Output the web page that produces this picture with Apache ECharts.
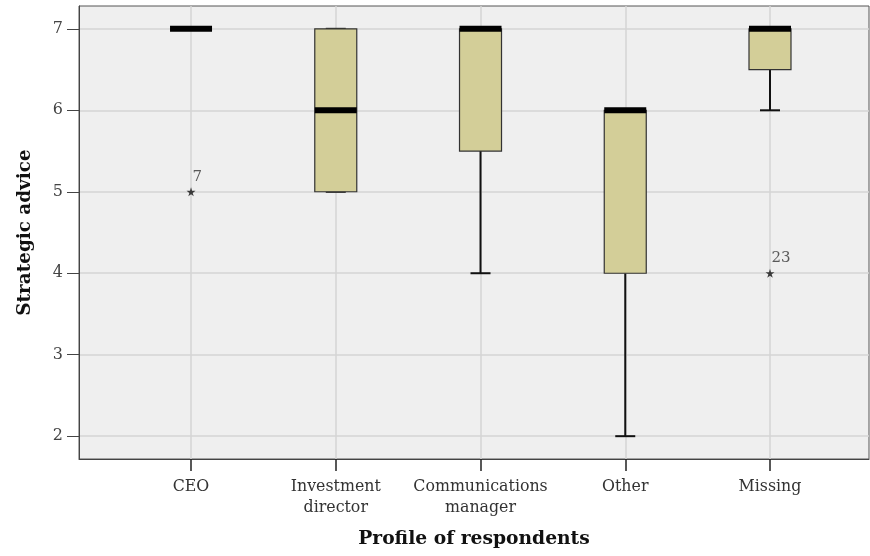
<!DOCTYPE html>
<html>
<head>
<meta charset="utf-8">
<script src="https://cdn.jsdelivr.net/npm/echarts@6/dist/echarts.min.js"></script>
<style>html,body{margin:0;padding:0;background:#fff}#c{width:870px;height:556px}</style>
</head>
<body>
<div id="c"></div>
<script>
const categories = ['CEO', 'Investment\ndirector', 'Communications\nmanager', 'Other', 'Missing'];
const lowerWhisker = [7, 5, 4, 2, 6];
const q1 = [7, 5, 5.5, 4, 6.5];
const median = [7, 6, 7, 6, 7];
const q3 = [7, 7, 7, 6, 7];
const upperWhisker = [7, 7, 7, 6, 7];
const outlierCategory = [1, 5];
const outlierValue = [5, 4];
const outlierLabel = ['7', '23'];
const yTicks = [2, 3, 4, 5, 6, 7];
const xTicks = [1, 2, 3, 4, 5];

const boxData = categories.map((c, i) => [i + 1, lowerWhisker[i], q1[i], median[i], q3[i], upperWhisker[i]]);
const outlierData = outlierCategory.map((c, i) => ({ value: [c, outlierValue[i]], name: outlierLabel[i] }));

const FONT = '"DejaVu Serif", "Liberation Serif", serif';
const chart = echarts.init(document.getElementById('c'));
chart.setOption({
  animation: false,
  backgroundColor: '#ffffff',
  grid: { left: 79, top: 6, right: 1, bottom: 97, outerBoundsMode: 'none', containLabel: false, show: true, backgroundColor: '#efefef', borderColor: '#555', borderWidth: 1 },
  xAxis: {
    type: 'value', min: 0.226, max: 5.684,
    axisLine: { show: true, lineStyle: { color: '#444', width: 1 } },
    axisTick: { show: true, length: 12, customValues: xTicks, lineStyle: { color: '#222', width: 1.5 } },
    axisLabel: { customValues: xTicks, margin: 17, formatter: v => categories[Math.round(v) - 1] || '', fontFamily: FONT, fontSize: 15.8, color: '#333', lineHeight: 21 },
    splitLine: { show: true, lineStyle: { color: '#d4d4d4', width: 1.5 } },
    name: 'Profile of respondents', nameLocation: 'middle', nameGap: 71,
    nameTextStyle: { fontFamily: FONT, fontWeight: 'bold', fontSize: 18.7, color: '#111' }
  },
  yAxis: {
    type: 'value', min: 1.72, max: 7.28,
    axisLine: { show: true, lineStyle: { color: '#444', width: 1 } },
    axisTick: { show: true, length: 12, customValues: yTicks, lineStyle: { color: '#444', width: 1 } },
    axisLabel: { customValues: yTicks, margin: 16, fontFamily: FONT, fontSize: 16, color: '#444' },
    splitLine: { show: true, lineStyle: { color: '#d4d4d4', width: 1.5 } },
    name: 'Strategic advice', nameLocation: 'middle', nameGap: 45,
    nameTextStyle: { fontFamily: FONT, fontWeight: 'bold', fontSize: 18.4, color: '#111' }
  },
  series: [
    {
      type: 'custom',
      data: boxData,
      encode: { x: 0, y: [1, 2, 3, 4, 5] },
      renderItem: function (params, api) {
        const x = api.value(0);
        const pMin = api.coord([x, api.value(1)]);
        const pQ1 = api.coord([x, api.value(2)]);
        const pMed = api.coord([x, api.value(3)]);
        const pQ3 = api.coord([x, api.value(4)]);
        const pMax = api.coord([x, api.value(5)]);
        const cx = pMin[0];
        const bw = 42, cw = 20;
        const line = { stroke: '#111', lineWidth: 2 };
        const children = [
          { type: 'line', shape: { x1: cx, y1: pMin[1], x2: cx, y2: pQ1[1] }, style: line },
          { type: 'line', shape: { x1: cx, y1: pQ3[1], x2: cx, y2: pMax[1] }, style: line },
          { type: 'line', shape: { x1: cx - cw / 2, y1: pMin[1], x2: cx + cw / 2, y2: pMin[1] }, style: line },
          { type: 'line', shape: { x1: cx - cw / 2, y1: pMax[1], x2: cx + cw / 2, y2: pMax[1] }, style: line },
          { type: 'rect', shape: { x: cx - bw / 2, y: pQ3[1], width: bw, height: pQ1[1] - pQ3[1] }, style: { fill: '#d3ce98', stroke: '#333', lineWidth: 1.2 } },
          { type: 'rect', shape: { x: cx - bw / 2, y: pMed[1] - 3, width: bw, height: 6 }, style: { fill: '#000' } }
        ];
        return { type: 'group', children: children };
      },
      z: 3
    },
    {
      type: 'scatter',
      data: outlierData,
      symbol: 'path://M50,0 L61,35 L98,35 L68,57 L79,91 L50,70 L21,91 L32,57 L2,35 L39,35 Z',
      symbolSize: 9,
      itemStyle: { color: '#111' },
      label: { show: true, formatter: p => p.name, position: [6, -18], fontFamily: FONT, fontSize: 15, color: '#333' },
      z: 4
    }
  ]
});
</script>
</body>
</html>
